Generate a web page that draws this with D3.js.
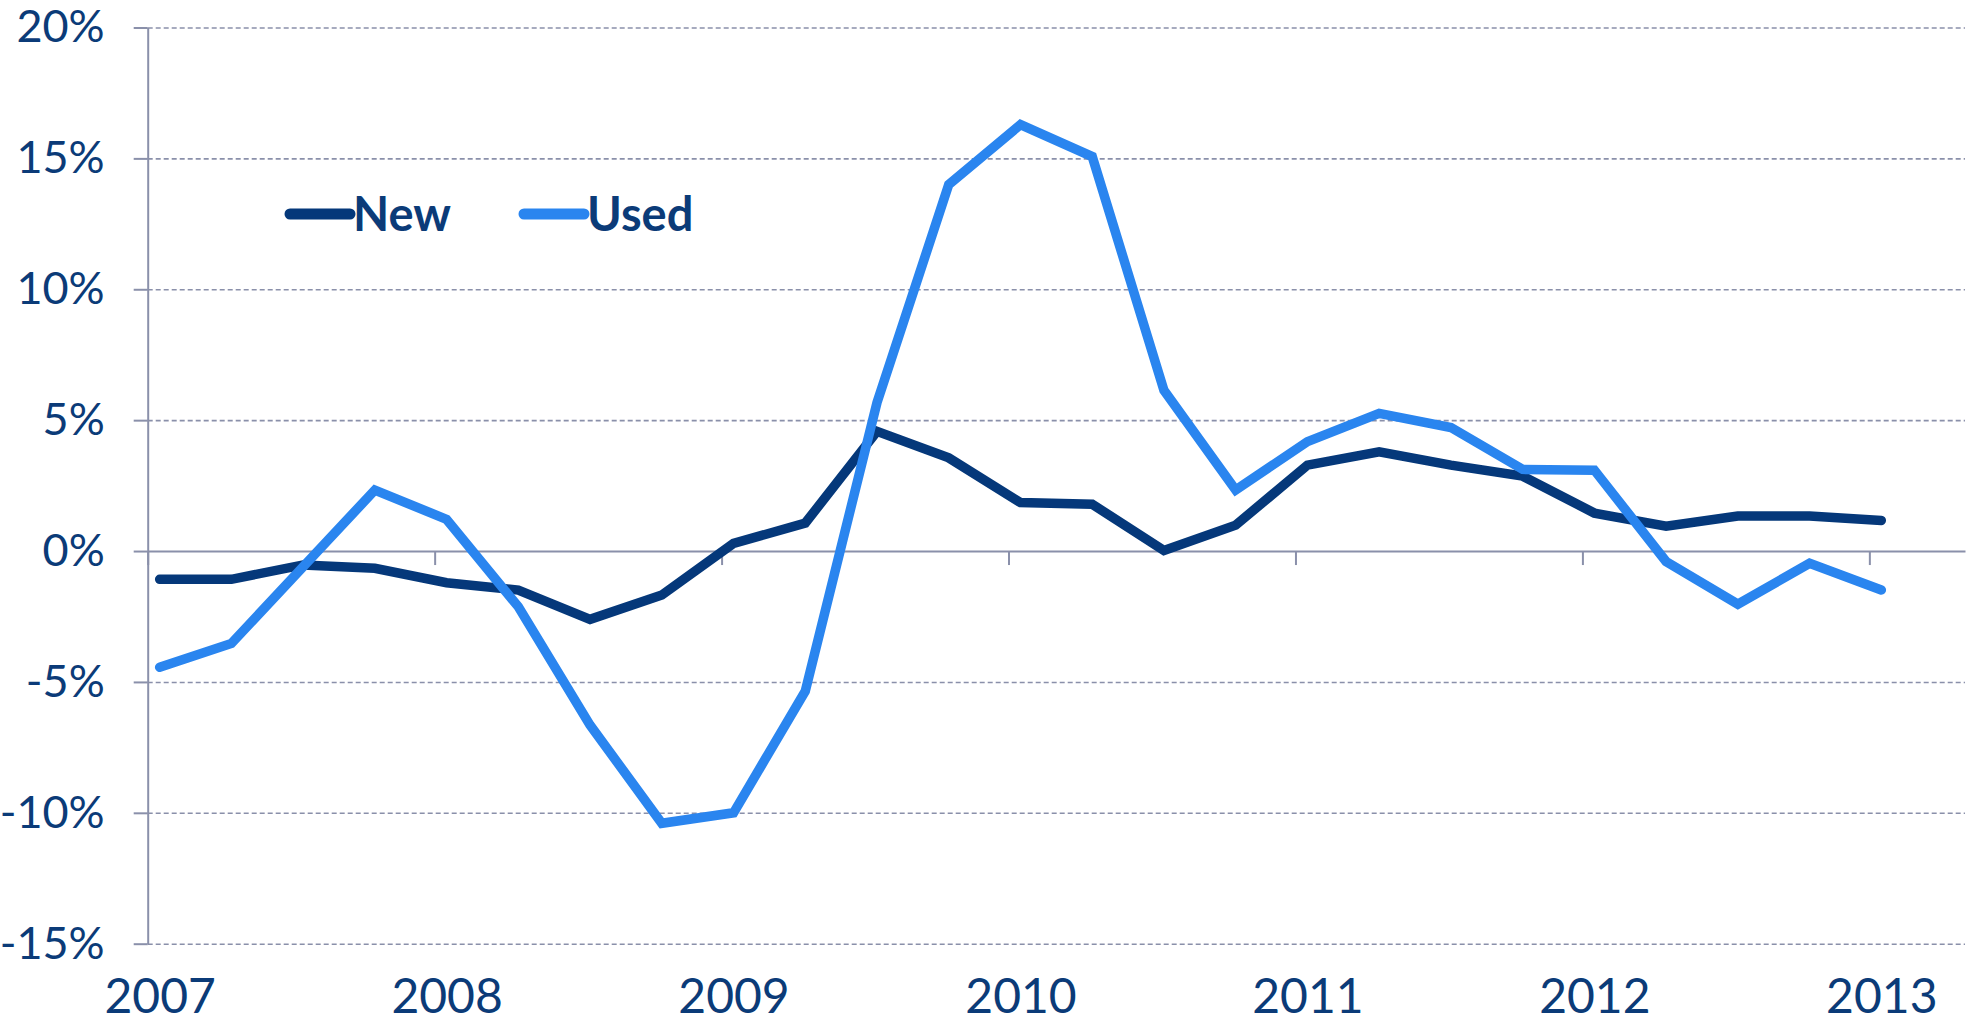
<!DOCTYPE html>
<html>
<head>
<meta charset="utf-8">
<script src="https://cdn.jsdelivr.net/npm/d3@7"></script>
<style>
  body { margin: 0; background: #fff; }
  svg { display: block; font-family: Lato, "Open Sans", sans-serif; }
</style>
</head>
<body>
<script>
// quarterly data, year-over-year % change
const quarters = [
  "2007 Q1", "2007 Q2", "2007 Q3", "2007 Q4",
  "2008 Q1", "2008 Q2", "2008 Q3", "2008 Q4",
  "2009 Q1", "2009 Q2", "2009 Q3", "2009 Q4",
  "2010 Q1", "2010 Q2", "2010 Q3", "2010 Q4",
  "2011 Q1", "2011 Q2", "2011 Q3", "2011 Q4",
  "2012 Q1", "2012 Q2", "2012 Q3", "2012 Q4",
  "2013 Q1"
];
const newVals = [-1.08, -1.08, -0.53, -0.66, -1.21, -1.49, -2.61, -1.68, 0.29, 1.07, 4.57, 3.56, 1.85, 1.79, 0.02, 0.99, 3.28, 3.79, 3.28, 2.86, 1.45, 0.95, 1.34, 1.34, 1.17];
const usedVals = [-4.44, -3.53, -0.6, 2.33, 1.21, -2.13, -6.65, -10.4, -10.0, -5.35, 5.67, 14.0, 16.29, 15.07, 6.14, 2.33, 4.18, 5.26, 4.72, 3.12, 3.09, -0.4, -2.03, -0.47, -1.49];
const years = [2007, 2008, 2009, 2010, 2011, 2012, 2013];
const yTicks = [-15, -10, -5, 0, 5, 10, 15, 20];

const W = 1974, H = 1023;
const plotL = 147.7, plotR = 1965, plotT = 27.5, plotB = 943.7;
const navy = "#05387a", blue = "#2a85ef", grid = "#8a90aa", textCol = "#0b3b78";

// month index from "YYYY Qn", centred in the quarter's first month
function monthOf(q) {
  const yr = +q.slice(0, 4), qq = +q.slice(6);
  return (yr - 2007) * 12 + (qq - 1) * 3 + 0.5;
}

const x = d3.scaleLinear().domain([0, 76]).range([plotL, plotR]);
const y = d3.scaleLinear().domain([-15, 20]).range([plotB, plotT]);

const svg = d3.select("body").append("svg")
  .attr("width", W)
  .attr("height", H);

// dashed grid
svg.append("g")
  .attr("transform", `translate(${plotL},0)`)
  .call(d3.axisLeft(y).tickValues(yTicks.filter(d => d !== 0)).tickSize(-(plotR - plotL)).tickFormat(""))
  .call(g => g.select(".domain").remove())
  .call(g => g.selectAll("line")
    .attr("stroke", grid)
    .attr("stroke-width", 1.6)
    .attr("stroke-dasharray", "5,3"));

// y axis with outward ticks and labels
svg.append("g")
  .attr("transform", `translate(${plotL},0)`)
  .call(d3.axisLeft(y).tickValues(yTicks).tickSize(14).tickSizeOuter(0).tickPadding(29).tickFormat(d => d + "%"))
  .call(g => g.select(".domain").attr("stroke", grid).attr("stroke-width", 2))
  .call(g => g.selectAll("line").attr("stroke", grid).attr("stroke-width", 2))
  .call(g => g.selectAll("text")
    .attr("fill", textCol)
    .style("font-family", "Lato, 'Open Sans', sans-serif")
    .style("font-size", "45px"));

// zero line with year ticks
svg.append("g")
  .attr("transform", `translate(0,${y(0)})`)
  .call(d3.axisBottom(x).tickValues(years.map(d => (d - 2007) * 12)).tickSize(14).tickSizeOuter(0).tickFormat(""))
  .call(g => g.select(".domain").attr("stroke", grid).attr("stroke-width", 2))
  .call(g => g.selectAll("line").attr("stroke", grid).attr("stroke-width", 2));

// year labels under the plot
svg.append("g")
  .attr("transform", `translate(0,${plotB})`)
  .call(d3.axisBottom(x).tickValues(years.map(d => (d - 2007) * 12 + 0.5)).tickSize(0).tickPadding(35)
    .tickFormat(d => years[Math.round((d - 0.5) / 12)]))
  .call(g => g.select(".domain").remove())
  .call(g => g.selectAll("text")
    .attr("fill", textCol)
    .style("font-family", "Lato, 'Open Sans', sans-serif")
    .style("font-size", "48px"));

// lines
const line = d3.line()
  .x((d, i) => x(monthOf(quarters[i])))
  .y(d => y(d));

svg.append("path")
  .attr("d", line(newVals))
  .attr("fill", "none")
  .attr("stroke", navy)
  .attr("stroke-width", 9.5)
  .attr("stroke-linejoin", "miter")
  .attr("stroke-linecap", "round");

svg.append("path")
  .attr("d", line(usedVals))
  .attr("fill", "none")
  .attr("stroke", blue)
  .attr("stroke-width", 9.5)
  .attr("stroke-linejoin", "miter")
  .attr("stroke-linecap", "round");

// legend
const legend = [
  {name: "New", color: navy, x0: 290},
  {name: "Used", color: blue, x0: 524}
];
const lg = svg.selectAll(".lg").data(legend).enter().append("g");
lg.append("line")
  .attr("x1", d => d.x0).attr("x2", d => d.x0 + 60)
  .attr("y1", 214).attr("y2", 214)
  .attr("stroke", d => d.color)
  .attr("stroke-width", 11)
  .attr("stroke-linecap", "round");
lg.append("text")
  .attr("x", d => d.x0 + 63)
  .attr("y", 231)
  .attr("fill", textCol)
  .style("font-size", "47px")
  .style("font-weight", 700)
  .text(d => d.name);
</script>
</body>
</html>
